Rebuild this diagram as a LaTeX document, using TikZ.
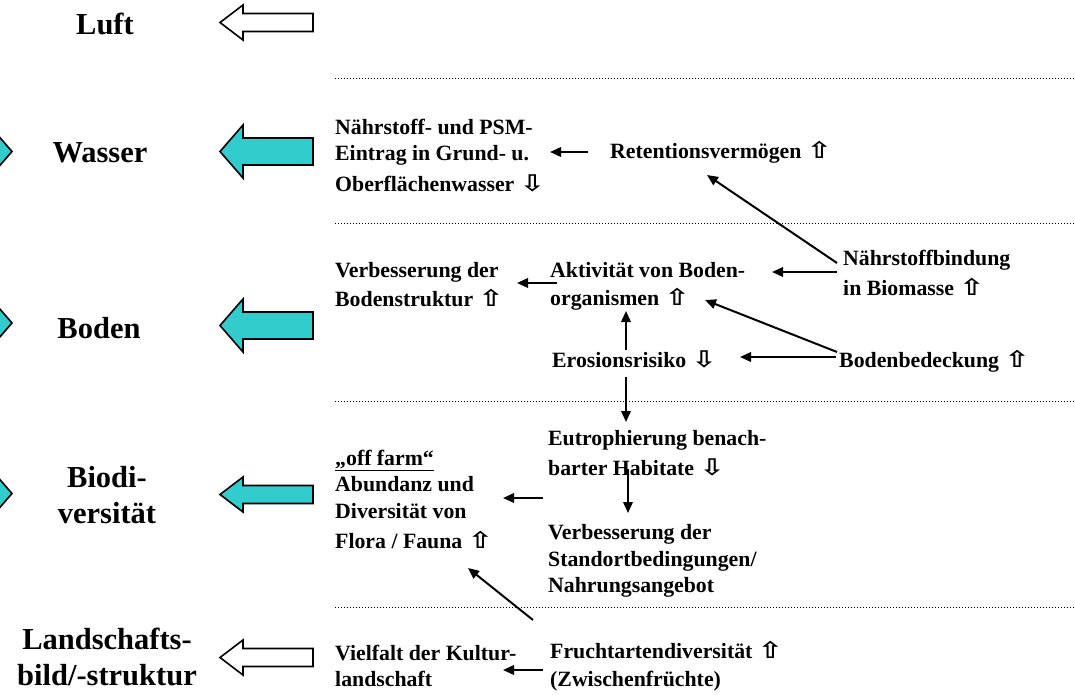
\documentclass[tikz,border=0pt]{standalone}
\usepackage{fontspec}
\usepackage{graphicx}
\setmainfont{Liberation Serif}
\newfontfamily\symfont{DejaVu Sans}
\usetikzlibrary{arrows.meta,calc}
\definecolor{tuerkis}{RGB}{51,204,204}
% white up / down arrows used as trend markers
\newcommand\uarr{\scalebox{1.3}[1]{\symfont\fontsize{23}{26}\selectfont ⇧}}
\newcommand\darr{\scalebox{1.3}[1]{\symfont\fontsize{23}{26}\selectfont ⇩}}

\begin{document}
\begin{tikzpicture}[x=1pt,y=-1pt,
  lab/.style={font=\fontsize{21.8}{26.5}\selectfont\bfseries, align=left, inner sep=0pt, anchor=base west},
  big/.style={font=\fontsize{30.5}{36}\selectfont\bfseries, align=center, inner sep=0pt, anchor=base},
  arr/.style={line width=2pt, -{Triangle[length=11pt,width=9.5pt]}},
  dotline/.style={line width=1pt, dash pattern=on 1pt off 2pt},
  pics/fatarrow/.style={code={
    \draw[line width=1.6pt, line join=miter, pic actions]
      (0,0) -- (23,-26.5) -- (23,-13.5) -- (93,-13.5) -- (93,13.5)
      -- (23,13.5) -- (23,26.5) -- cycle;}},
  pics/slimarrow/.style={code={
    \draw[line width=1.6pt, line join=miter, pic actions]
      (0,0) -- (23,-17.5) -- (23,-9) -- (93,-9) -- (93,9)
      -- (23,9) -- (23,17.5) -- cycle;}},
]
\useasboundingbox (0,0) rectangle (1075,694);

% arrows coming in from the left margin
\begin{scope}
  \clip (0,0) rectangle (1075,694);
  \pic[fill=tuerkis, xscale=-1] at (12,151.5) {fatarrow};
  \pic[fill=tuerkis, xscale=-1] at (12,323) {fatarrow};
  \pic[fill=tuerkis, xscale=-1] at (12,493.5) {fatarrow};
\end{scope}

% compartment labels (multi-line nodes are placed by their last baseline)
\node[big] (luft)    at (105,34.5) {Luft};
\node[big] (wasser)  at (100,162.7) {Wasser};
\node[big] (boden)   at (99,338) {Boden};
\node[big] (biodiv)  at (107,523) {Biodi-\\versität};
\node[big] (landsch) at (107,685) {Landschafts-\\bild/-struktur};

% block arrows towards the compartments
\pic[fill=white]   at (220,22.5)  {slimarrow};
\pic[fill=tuerkis] at (220,151.5) {fatarrow};
\pic[fill=tuerkis] at (220,325.5) {fatarrow};
\pic[fill=tuerkis] at (220,494.5) {slimarrow};
\pic[fill=white]   at (220,657.5) {slimarrow};

% separators between the compartments
\draw[dotline] (335,78.5)  -- (1075,78.5);
\draw[dotline] (335,223.5) -- (1075,223.5);
\draw[dotline] (335,401.5) -- (1075,401.5);
\draw[dotline] (335,607.5) -- (1075,607.5);

% effects
\node[lab] (nae) at (335,191.7) {Nährstoff- und PSM-\\Eintrag in Grund- u.\\[4.5pt]Oberflächenwasser \darr};
\node[lab] (ret) at (610,158) {Retentionsvermögen \uarr};
\node[lab] (vbs) at (335,306) {Verbesserung der\\[2.5pt]Bodenstruktur \uarr};
\node[lab] (akt) at (550,305) {Aktivität von Boden-\\[1.5pt]organismen \uarr};
\node[lab] (nbi) at (843,295) {Nährstoffbindung\\[3.5pt]in Biomasse \uarr};
\node[lab] (bbd) at (839,367) {Bodenbedeckung \uarr};
\node[lab] (ero) at (552,367) {Erosionsrisiko \darr};
\node[lab] (eut) at (548,475) {Eutrophierung benach-\\[3.5pt]barter Habitate \darr};
\node[lab] (vst) at (548,592.7) {Verbesserung der\\Standortbedingungen/\\Nahrungsangebot};
\node[lab] (off) at (335,548.3) {\underline{„off farm“}\\Abundanz und\\Diversität von\\[3.5pt]Flora / Fauna \uarr};
\node[lab] (vie) at (335,686.7) {Vielfalt der Kultur-\\landschaft};
\node[lab] (fru) at (550,686.7) {Fruchtartendiversität \uarr\\[1.5pt](Zwischenfrüchte)};

% cause-effect links
\draw[arr] ($(ret.base west)+(-22,-6)$)    -- ($(nae.base west)+(215,-39.7)$);
\draw[arr] ($(akt.base west)+(7,-22)$)     -- ($(vbs.base west)+(182,-23)$);
\draw[arr] ($(nbi.base west)+(-6,-23)$)    -- ($(akt.base west)+(222,-33)$);
\draw[arr] ($(nbi.base west)+(-6,-32)$)    -- ($(ret.base west)+(97,17)$);
\draw[arr] ($(bbd.base west)+(-2,-15)$)    -- ($(akt.base west)+(155,-5)$);
\draw[arr] ($(bbd.base west)+(-3,-10)$)    -- ($(ero.base west)+(188,-10)$);
\draw[arr] ($(ero.base west)+(74,-17)$)    -- ($(akt.base west)+(76,6)$);
\draw[arr] ($(ero.base west)+(74,10)$)     -- ($(eut.base west)+(78,-53)$);
\draw[arr] ($(eut.base west)+(80,-6)$)     -- ($(vst.base west)+(80,-79.7)$);
\draw[arr] ($(eut.base west)+(-5,23)$)     -- ($(off.base west)+(168,-50.3)$);
\draw[arr] ($(fru.base west)+(-17,-66.7)$) -- ($(off.base west)+(133,19.7)$);
\draw[arr] ($(fru.base west)+(-7,-16.7)$)  -- ($(vie.base west)+(168,-16.7)$);
\end{tikzpicture}
\end{document}
